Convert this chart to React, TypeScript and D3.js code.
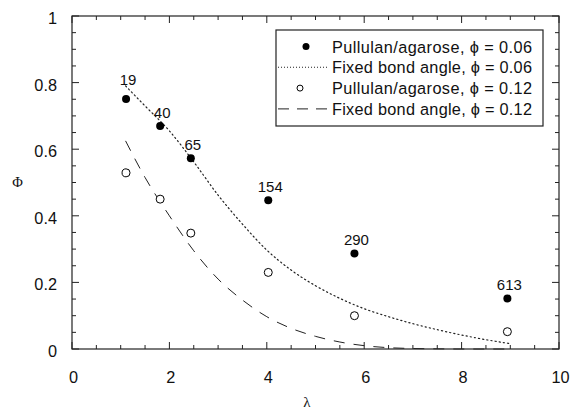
import React from "react";
import * as d3 from "d3";

const filledLambda = [1.11, 1.81, 2.44, 4.03, 5.8, 8.94];
const filledPhi = [0.751, 0.67, 0.573, 0.447, 0.287, 0.152];
const filledLabels = ["19", "40", "65", "154", "290", "613"];
const openLambda = [1.11, 1.81, 2.44, 4.03, 5.8, 8.94];
const openPhi = [0.529, 0.45, 0.348, 0.23, 0.1, 0.052];

const dottedLambda = [1.1, 1.5, 2.0, 2.5, 3.0, 3.5, 4.0, 4.5, 5.0, 5.5, 6.0, 6.5, 7.0, 7.5, 8.0, 8.5, 9.0];
const dottedPhi = [0.79, 0.73, 0.655, 0.562, 0.462, 0.375, 0.297, 0.237, 0.19, 0.152, 0.121, 0.097, 0.076, 0.058, 0.042, 0.028, 0.016];
const dashedLambda = [1.1, 1.5, 2.0, 2.5, 3.0, 3.5, 4.0, 4.5, 5.0, 5.5, 6.0, 6.5, 7.0, 7.5, 8.0, 9.0];
const dashedPhi = [0.625, 0.515, 0.4, 0.295, 0.21, 0.147, 0.097, 0.062, 0.038, 0.021, 0.01, 0.004, 0.0015, 0.0005, 0.0, 0.0];

const xTicks = [0, 2, 4, 6, 8, 10];
const yTicks = [0, 0.2, 0.4, 0.6, 0.8, 1];
const yTickLabels = ["0", "0.2", "0.4", "0.6", "0.8", "1"];

const legendItems = [
  { kind: "filled", label: "Pullulan/agarose, \u03d5 = 0.06" },
  { kind: "dotted", label: "Fixed bond angle, \u03d5 = 0.06" },
  { kind: "open", label: "Pullulan/agarose, \u03d5 = 0.12" },
  { kind: "dashed", label: "Fixed bond angle, \u03d5 = 0.12" },
];

export default function App() {
  const W = 574, H = 415;
  const L = 72, R = 559, T = 16, B = 349;
  const x = d3.scaleLinear().domain([0, 10]).range([L, R]);
  const y = d3.scaleLinear().domain([0, 1]).range([B, T]);
  const font = "'Liberation Sans', Arial, Helvetica, sans-serif";
  const serif = "'Liberation Serif', 'DejaVu Serif', serif";

  const line = d3
    .line<[number, number]>()
    .x((d) => x(d[0]))
    .y((d) => y(d[1]))
    .curve(d3.curveMonotoneX);

  const dotted = line(dottedLambda.map((l, i) => [l, dottedPhi[i]]) as [number, number][]) || "";
  const dashed = line(dashedLambda.map((l, i) => [l, dashedPhi[i]]) as [number, number][]) || "";

  const xMinor = d3.range(0, 10.001, 0.5);
  const yMinor = d3.range(0, 1.0001, 0.05);

  const isMajorX = (v: number) => Math.abs(v / 2 - Math.round(v / 2)) < 1e-6;
  const isMajorY = (v: number) => Math.abs(v / 0.2 - Math.round(v / 0.2)) < 1e-6;

  const stroke = "#222";
  const legX = 276, legY = 30, legW = 267, legH = 96;
  const rowY = (i: number) => legY + 16.5 + i * 20.8;

  return (
    <svg width={W} height={H} style={{ position: "absolute", left: 0, top: 0, background: "#fff" }}>
      <rect x={0} y={0} width={W} height={H} fill="#fff" />
      <rect x={L} y={T} width={R - L} height={B - T} fill="none" stroke={stroke} strokeWidth={1.2} />
      {xMinor.map((v, i) => {
        const len = isMajorX(v) ? 7 : 4;
        return (
          <g key={"xt" + i}>
            <line x1={x(v)} x2={x(v)} y1={B} y2={B - len} stroke={stroke} strokeWidth={1} />
            <line x1={x(v)} x2={x(v)} y1={T} y2={T + len} stroke={stroke} strokeWidth={1} />
          </g>
        );
      })}
      {yMinor.map((v, i) => {
        const len = isMajorY(v) ? 7 : 4;
        return (
          <g key={"yt" + i}>
            <line x1={L} x2={L + len} y1={y(v)} y2={y(v)} stroke={stroke} strokeWidth={1} />
            <line x1={R} x2={R - len} y1={y(v)} y2={y(v)} stroke={stroke} strokeWidth={1} />
          </g>
        );
      })}
      {xTicks.map((v) => (
        <text key={"xl" + v} x={x(v) + 1.5} y={B + 34} textAnchor="middle" fontFamily={font} fontSize={16.3} fill="#111">
          {v}
        </text>
      ))}
      {yTicks.map((v, i) => (
        <text key={"yl" + v} x={L - 15} y={y(v) + 8} textAnchor="end" fontFamily={font} fontSize={16.3} fill="#111">
          {yTickLabels[i]}
        </text>
      ))}
      <text x={307} y={407} textAnchor="middle" fontFamily={serif} fontSize={15} fill="#111">
        λ
      </text>
      <text x={17.5} y={187} textAnchor="middle" fontFamily={serif} fontSize={14.5} fill="#111">
        Φ
      </text>
      <path d={dotted} fill="none" stroke={stroke} strokeWidth={1.2} strokeDasharray="1.2 3" strokeLinecap="round" />
      <path d={dashed} fill="none" stroke={stroke} strokeWidth={1} strokeDasharray="11 9" />
      {filledLambda.map((l, i) => (
        <circle key={"f" + i} cx={x(l)} cy={y(filledPhi[i])} r={4} fill="#000" />
      ))}
      {openLambda.map((l, i) => (
        <circle key={"o" + i} cx={x(l)} cy={y(openPhi[i])} r={4} fill="#fff" stroke="#000" strokeWidth={1} />
      ))}
      {filledLambda.map((l, i) => (
        <text key={"lb" + i} x={x(l) + 2} y={y(filledPhi[i]) - (i === 0 ? 14 : 8)} textAnchor="middle" fontFamily={font} fontSize={15} fill="#111">
          {filledLabels[i]}
        </text>
      ))}
      <rect x={legX} y={legY} width={legW} height={legH} fill="#fff" stroke={stroke} strokeWidth={1.2} />
      {legendItems.map((it, i) => {
        const cy = rowY(i);
        const sx = legX + 2, ex = legX + 51;
        return (
          <g key={"lg" + i}>
            {it.kind === "filled" && <circle cx={legX + 30} cy={cy} r={3.5} fill="#000" />}
            {it.kind === "open" && <circle cx={legX + 24} cy={cy} r={3} fill="#fff" stroke="#000" strokeWidth={1} />}
            {it.kind === "dotted" && (
              <line x1={sx} x2={ex} y1={cy} y2={cy} stroke={stroke} strokeWidth={1.1} strokeDasharray="1 2" />
            )}
            {it.kind === "dashed" && (
              <line x1={sx} x2={ex} y1={cy} y2={cy} stroke={stroke} strokeWidth={1} strokeDasharray="11 8" />
            )}
            <text x={legX + 56} y={cy + 6} fontFamily={font} fontSize={16.3} textLength={200} lengthAdjust="spacing" fill="#111">
              {it.label}
            </text>
          </g>
        );
      })}
    </svg>
  );
}
